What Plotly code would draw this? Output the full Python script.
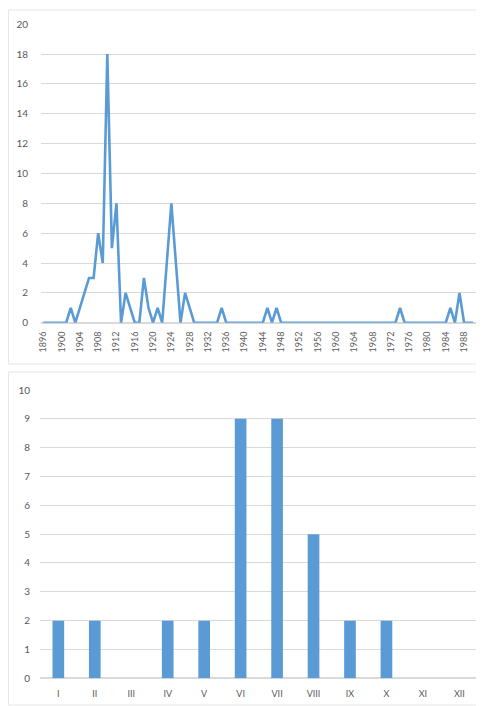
import plotly.graph_objects as go

# ---- data ----
years = list(range(1896, 1991))
counts_by_year = {
    1902: 1, 1904: 1, 1905: 2, 1906: 3, 1907: 3, 1908: 6, 1909: 4, 1910: 18,
    1911: 5, 1912: 8, 1914: 2, 1915: 1, 1918: 3, 1919: 1, 1921: 1, 1923: 4,
    1924: 8, 1925: 4, 1927: 2, 1928: 1, 1935: 1, 1945: 1, 1947: 1, 1974: 1,
    1985: 1, 1987: 2,
}
year_values = [counts_by_year.get(y, 0) for y in years]
year_ticks = list(range(1896, 1989, 4))

months = ["I", "II", "III", "IV", "V", "VI", "VII", "VIII", "IX", "X", "XI", "XII"]
month_values = [2, 2, 0, 2, 2, 9, 9, 5, 2, 2, 0, 0]

BLUE = "#5b9bd5"
GRID = "#d9d9d9"
TXT = "#595959"
FONT = "Lato"

# page body has an 8px margin: figure drawn at (8, 8) in the window
OFF = 8
W, H = 484 - OFF, 706 - OFF

fig = go.Figure()
fig.add_trace(go.Scatter(x=years, y=year_values, mode="lines",
                         line=dict(color=BLUE, width=2.6), xaxis="x", yaxis="y",
                         showlegend=False))
fig.add_trace(go.Bar(x=months, y=month_values, marker=dict(color=BLUE, line=dict(width=0)),
                     xaxis="x2", yaxis="y2", showlegend=False))

def px_x(p):
    return (p - OFF) / W

def px_y(p):
    return 1 - (p - OFF) / H

fig.update_layout(
    width=W, height=H,
    margin=dict(l=0, r=0, t=0, b=0, autoexpand=False),
    paper_bgcolor="white", plot_bgcolor="white",
    font=dict(family=FONT, color=TXT, size=10),
    bargap=0.68,
    xaxis=dict(domain=[px_x(41.0), px_x(475.5)], range=[1895.5, 1990.5],
               tickmode="array", tickvals=year_ticks, ticktext=[str(t) for t in year_ticks],
               tickangle=-90, showgrid=False, zeroline=False, showline=False,
               ticks="", ticklabelstandoff=6, tickfont=dict(size=9, color=TXT, family=FONT),
               anchor="y", fixedrange=True, automargin=False),
    yaxis=dict(domain=[px_y(322.7), px_y(24.3)], range=[0, 20], dtick=2,
               showgrid=True, gridcolor=GRID, gridwidth=1, zeroline=True,
               zerolinecolor=GRID, showline=False, ticks="", ticklabelstandoff=12,
               tickfont=dict(size=10, color=TXT, family=FONT), anchor="x", automargin=False),
    xaxis2=dict(domain=[px_x(40.1), px_x(477.6)], type="category",
                showgrid=False, zeroline=False, showline=False, ticks="",
                ticklabelstandoff=9, tickfont=dict(size=9, color=TXT, family=FONT),
                anchor="y2", automargin=False),
    yaxis2=dict(domain=[px_y(678.3), px_y(390)], range=[0, 10], dtick=1,
                showgrid=True, gridcolor=GRID, gridwidth=1, zeroline=True,
                zerolinecolor=GRID, showline=False, ticks="", ticklabelstandoff=9,
                tickfont=dict(size=10, color=TXT, family=FONT), anchor="x2", automargin=False),
    shapes=[
        dict(type="rect", xref="paper", yref="paper",
             x0=px_x(8.5), x1=px_x(483.5), y0=px_y(364), y1=px_y(10),
             line=dict(color="#e6e6e6", width=1), fillcolor="rgba(0,0,0,0)", layer="below"),
        dict(type="rect", xref="paper", yref="paper",
             x0=px_x(8.5), x1=px_x(483.5), y0=px_y(705), y1=px_y(372),
             line=dict(color="#e6e6e6", width=1), fillcolor="rgba(0,0,0,0)", layer="below"),
    ],
)

fig.write_html("out.html")
